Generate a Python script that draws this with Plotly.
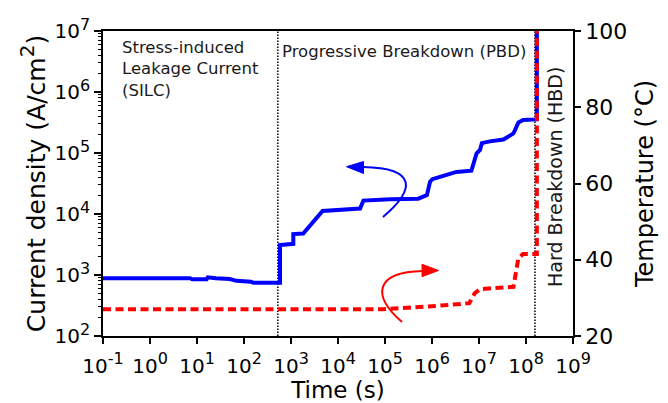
import plotly.graph_objects as go

# Current density (A/cm^2) versus stress time (s)
time_j = [0.1, 7.1, 7.9, 16, 17, 25, 50, 69, 140, 158, 583, 583, 1120, 1120, 1820, 4700,
          29500, 34700, 1.29e5, 5.1e5, 7.8e5, 9.1e5, 1.02e6, 1.26e6, 1.48e6, 3.3e6,
          6.9e6, 8.9e6, 1.05e7, 1.15e7, 1.7e7, 3.3e7, 4.6e7, 5.4e7, 6.9e7, 8.7e7,
          1.7e8, 1.7e8]
current_density = [883, 883, 850, 850, 916, 883, 861, 803, 776, 748, 748, 3100, 3240, 4680,
                   4790, 11200, 12300, 16600, 17400, 17800, 20400, 33900, 37200, 39800,
                   40700, 49000, 51300, 98900, 1.12e5, 1.45e5, 1.55e5, 1.66e5, 1.9e5,
                   2.09e5, 3.16e5, 3.47e5, 3.55e5, 1e7]

# Device temperature (deg C) versus stress time (s)
time_temp = [0.1, 8.7e4, 1.0e6, 6.2e6, 8.1e6, 1.05e7, 5.4e7, 6.9e7, 8.7e7, 1.7e8, 1.7e8]
temperature = [27.0, 27.0, 27.8, 28.6, 31.2, 32.3, 32.9, 40.4, 41.5, 41.5, 100]

# Boundaries between the SILC, PBD and HBD regimes (s)
phase_bounds = [525, 1.55e8]

x_exponents = ["-1", "0", "1", "2", "3", "4", "5", "6", "7", "8", "9"]
x_tickvals = [1e-1, 1e0, 1e1, 1e2, 1e3, 1e4, 1e5, 1e6, 1e7, 1e8, 1e9]
y_exponents = ["2", "3", "4", "5", "6", "7"]
y_tickvals = [1e2, 1e3, 1e4, 1e5, 1e6, 1e7]
y_minor = [m * 10 ** k for k in range(2, 7) for m in range(2, 10)]
y2_tickvals = [20, 40, 60, 80, 100]

FONT = "DejaVu Sans"
W, H = 668, 403
L, R, T, B = 103, 95, 31, 67
PW, PH = W - L - R, H - T - B


def power_label(exp, size=16):
    return f"10<sup><span style='font-size:{size}px'>{exp}</span></sup>"


def px(x):
    return (x - L) / PW


def py(y):
    return (H - B - y) / PH


def bezier_path(p0, c1, c2, p1):
    s = [f"{px(x):.4f},{py(y):.4f}" for x, y in (p0, c1, c2, p1)]
    return f"M {s[0]} C {s[1]} {s[2]} {s[3]}"


def triangle_path(tip, b1, b2):
    s = [f"{px(x):.4f},{py(y):.4f}" for x, y in (tip, b1, b2)]
    return f"M {s[0]} L {s[1]} L {s[2]} Z"


fig = go.Figure()

for xb in phase_bounds:
    fig.add_trace(go.Scatter(
        x=[xb, xb], y=[1e2, 1e7], mode="lines", yaxis="y",
        line=dict(color="black", width=1.5, dash="1.5px,1.5px"),
        showlegend=False, hoverinfo="skip"))

fig.add_trace(go.Scatter(
    x=time_j, y=current_density, mode="lines", yaxis="y",
    line=dict(color="#0000ff", width=4), showlegend=False))

fig.add_trace(go.Scatter(
    x=time_temp, y=temperature, mode="lines", yaxis="y2",
    line=dict(color="#ff0000", width=4, dash="8px,4.5px"), showlegend=False))

axis_common = dict(
    showline=True, linecolor="black", linewidth=1.5, showgrid=False, zeroline=False,
    ticks="outside", tickcolor="black", tickwidth=1.5, automargin=False,
)

shapes = [
    # blue arrow: current density read on the left axis
    dict(type="path", xref="paper", yref="paper", layer="above",
         path=bezier_path((383, 217), (415, 190), (418, 168), (363, 167)),
         line=dict(color="#0000ff", width=2)),
    dict(type="path", xref="paper", yref="paper", layer="above",
         path=triangle_path((346.5, 166.7), (363.5, 161.5), (363.5, 173.5)),
         line=dict(color="#0000ff", width=1), fillcolor="#0000ff"),
    # red arrow: temperature read on the right axis
    dict(type="path", xref="paper", yref="paper", layer="above",
         path=bezier_path((402, 322), (372, 296), (374, 272), (423, 271)),
         line=dict(color="#ff0000", width=2)),
    dict(type="path", xref="paper", yref="paper", layer="above",
         path=triangle_path((438.5, 270.5), (422, 264.3), (422, 276.7)),
         line=dict(color="#ff0000", width=1), fillcolor="#ff0000"),
]

text_color = "#1a1a1a"
annotations = [
    dict(x=px(120), y=py(36), xref="paper", yref="paper", xanchor="left", yanchor="top",
         text="Stress-induced<br>Leakage Current<br>(SILC)", align="left", showarrow=False,
         font=dict(family=FONT, size=16.5, color=text_color)),
    dict(x=px(280), y=py(40), xref="paper", yref="paper", xanchor="left", yanchor="top",
         text="Progressive Breakdown (PBD)", align="left", showarrow=False,
         font=dict(family=FONT, size=16.5, color=text_color)),
    dict(x=px(555), y=py(177), xref="paper", yref="paper", xanchor="center", yanchor="middle",
         text="Hard Breakdown (HBD)", textangle=-90, showarrow=False,
         font=dict(family=FONT, size=19, color=text_color)),
]

fig.update_layout(
    width=W, height=H,
    margin=dict(l=L, r=R, t=T, b=B, pad=0, autoexpand=False),
    paper_bgcolor="white", plot_bgcolor="white",
    font=dict(family=FONT, color="black"),
    xaxis=dict(
        type="log", range=[-1, 9], tickmode="array", tickvals=x_tickvals,
        ticktext=[power_label(e) for e in x_exponents], mirror=True,
        tickfont=dict(size=20), ticklen=6, ticklabelstandoff=5,
        title=dict(text="Time (s)", font=dict(size=23), standoff=2),
        **axis_common),
    yaxis=dict(
        type="log", range=[2, 7], tickmode="array", tickvals=y_tickvals,
        ticktext=[power_label(e) for e in y_exponents], tickfont=dict(size=20), ticklen=7,
        minor=dict(tickvals=y_minor, ticks="outside", ticklen=3.5, tickwidth=1,
                   tickcolor="black", showgrid=False),
        title=dict(text="Current density (A/cm<sup><span style='font-size:20px'>2</span></sup>)",
                   font=dict(size=25), standoff=2),
        **axis_common),
    yaxis2=dict(
        overlaying="y", side="right", range=[20, 100], tickmode="array",
        tickvals=y2_tickvals, tickfont=dict(size=22), ticklen=6,
        title=dict(text="Temperature (°C)", font=dict(size=24), standoff=10),
        **axis_common),
    shapes=shapes,
    annotations=annotations,
)

fig.write_html("out.html")
